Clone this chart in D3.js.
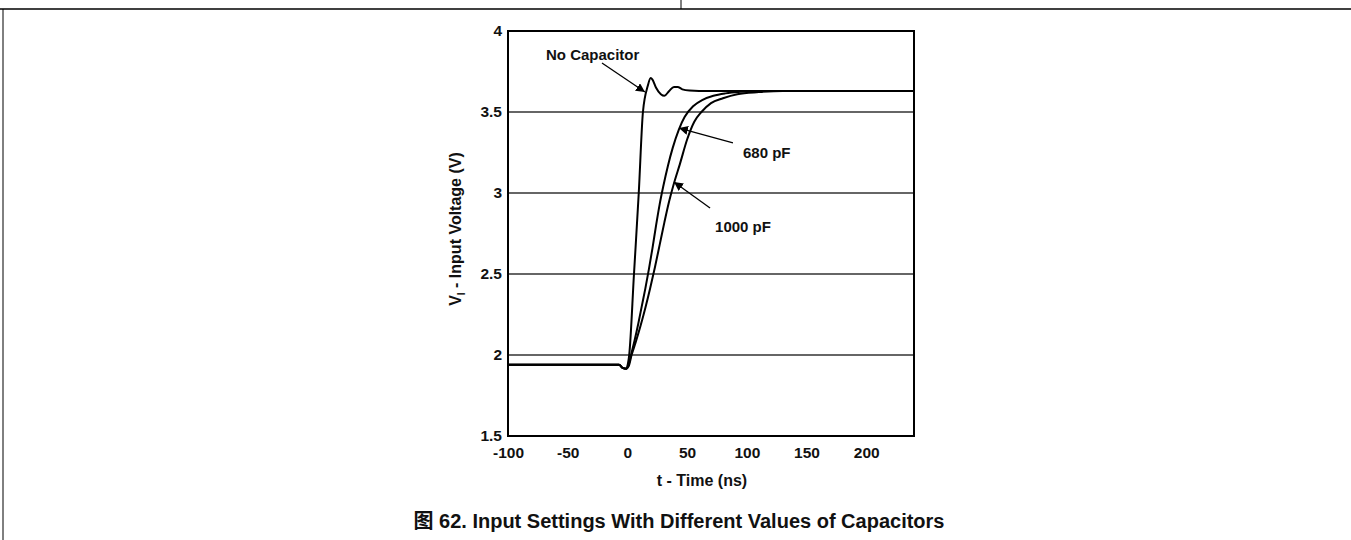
<!DOCTYPE html>
<html>
<head>
<meta charset="utf-8">
<script src="https://cdn.jsdelivr.net/npm/d3@7"></script>
<style>
  body { margin: 0; background: #fff; }
  svg text { font-family: "Liberation Sans", Arial, "Noto Sans CJK SC", sans-serif; font-weight: bold; fill: #111; }
</style>
</head>
<body>
<div id="chart"></div>
<script>
// values: [t (ns), V]
const tTicks = [-100, -50, 0, 50, 100, 150, 200];
const vTicks = [1.5, 2, 2.5, 3, 3.5, 4];
const vGrid = [2, 2.5, 3, 3.5];

const noCap = [[-100,1.94],[-20,1.94],[-7,1.94],[-4,1.92],[-1,1.915],[0.5,1.95],[1.5,2.0],[5.5,2.5],[9.5,3.0],[13,3.5],[17,3.66],[19.5,3.71],[21,3.70],[24,3.65],[28,3.61],[31,3.60],[35,3.63],[39,3.655],[42,3.655],[46,3.64],[52,3.632],[60,3.63],[240,3.63]];
const pf680 = [[-100,1.94],[-7,1.94],[-4,1.92],[-1,1.915],[1,1.94],[3,2.0],[6,2.09],[9,2.19],[12,2.3],[15,2.41],[18,2.53],[21,2.66],[24,2.8],[27,2.93],[30,3.04],[34,3.17],[38,3.28],[43,3.39],[48,3.47],[55,3.535],[63,3.575],[72,3.60],[82,3.615],[95,3.625],[110,3.63],[240,3.63]];
const pf1000 = [[-100,1.94],[-7,1.94],[-4,1.92],[-1,1.915],[1,1.93],[3.5,2.0],[7,2.08],[11,2.18],[15,2.29],[19,2.41],[23,2.54],[27,2.68],[31,2.82],[35,2.95],[39,3.06],[44,3.18],[50,3.33],[56,3.44],[62,3.50],[70,3.555],[80,3.585],[92,3.61],[110,3.623],[130,3.63],[240,3.63]];

// labels with text start / arrow tail / arrow tip in data units
const notes = [
  { text: "No Capacitor", at: [-68.2, 3.821], from: [-21.3, 3.802], to: [14.7, 3.623] },
  { text: "680 pF", at: [96.8, 3.216], from: [88.4, 3.309], to: [43.2, 3.401] },
  { text: "1000 pF", at: [73.4, 2.759], from: [69.2, 2.907], to: [39.0, 3.068] }
];

const width = 1351;
const height = 540;
const margin = { top: 31, bottom: 104, left: 508, right: 437 };

const svg = d3.select('#chart')
  .append('svg')
  .attr('width', width)
  .attr('height', height);

// page frame lines
svg.append('line').attr('x1', 0).attr('x2', width).attr('y1', 9).attr('y2', 9)
  .attr('stroke', '#000').attr('stroke-width', 1.5);
svg.append('line').attr('x1', 681).attr('x2', 681).attr('y1', 0).attr('y2', 9)
  .attr('stroke', '#000').attr('stroke-width', 1);
svg.append('line').attr('x1', 3).attr('x2', 3).attr('y1', 9).attr('y2', height)
  .attr('stroke', '#000').attr('stroke-width', 1);

const x = d3.scaleLinear()
  .domain([-100, 240])
  .range([margin.left, width - margin.right]);

const y = d3.scaleLinear()
  .domain([1.5, 4])
  .range([height - margin.bottom, margin.top]);

// grid
svg.append('g')
  .selectAll('line')
  .data(vGrid)
  .join('line')
  .attr('x1', x.range()[0]).attr('x2', x.range()[1])
  .attr('y1', d => y(d)).attr('y2', d => y(d))
  .attr('stroke', '#333')
  .attr('stroke-width', 1.7);

// axes (labels only)
svg.append('g')
  .attr('transform', `translate(0,${y(1.5)})`)
  .call(d3.axisBottom(x).tickValues(tTicks).tickSize(0).tickPadding(11).tickFormat(d => String(d)))
  .call(g => g.select('.domain').remove())
  .selectAll('text')
  .attr('font-size', '15.5px');

svg.append('g')
  .attr('transform', `translate(${x(-100)},0)`)
  .call(d3.axisLeft(y).tickValues(vTicks).tickSize(0).tickPadding(6).tickFormat(d => String(d)))
  .call(g => g.select('.domain').remove())
  .selectAll('text')
  .attr('font-size', '15.5px');

svg.selectAll('.tick text').attr('fill', '#111').style('font-family', '"Liberation Sans", Arial, sans-serif').style('font-weight', 'bold');

// curves
const line = d3.line()
  .x(d => x(d[0]))
  .y(d => y(d[1]))
  .curve(d3.curveMonotoneX);

svg.append('g')
  .selectAll('path')
  .data([pf1000, pf680, noCap])
  .join('path')
  .attr('d', line)
  .attr('fill', 'none')
  .attr('stroke', '#000')
  .attr('stroke-width', 2);

// frame
svg.append('rect')
  .attr('x', x(-100)).attr('y', y(4))
  .attr('width', x(240) - x(-100)).attr('height', y(1.5) - y(4))
  .attr('fill', 'none')
  .attr('stroke', '#000')
  .attr('stroke-width', 2);

// annotations
svg.append('defs').append('marker')
  .attr('id', 'arrow')
  .attr('viewBox', '0 0 10 10')
  .attr('refX', 10).attr('refY', 5)
  .attr('markerWidth', 9).attr('markerHeight', 9)
  .attr('markerUnits', 'userSpaceOnUse')
  .attr('orient', 'auto')
  .append('path')
  .attr('d', 'M0,0 L10,5 L0,10 Z')
  .attr('fill', '#000');

const ann = svg.append('g');
ann.selectAll('line')
  .data(notes)
  .join('line')
  .attr('x1', d => x(d.from[0])).attr('y1', d => y(d.from[1]))
  .attr('x2', d => x(d.to[0])).attr('y2', d => y(d.to[1]))
  .attr('stroke', '#000')
  .attr('stroke-width', 1.3)
  .attr('marker-end', 'url(#arrow)');

ann.selectAll('text')
  .data(notes)
  .join('text')
  .attr('x', d => x(d.at[0]))
  .attr('y', d => y(d.at[1]))
  .attr('font-size', '15px')
  .text(d => d.text);

// axis titles
svg.append('text')
  .attr('x', 702).attr('y', 486)
  .attr('text-anchor', 'middle')
  .attr('font-size', '16px')
  .text('t - Time (ns)');

const yt = svg.append('text')
  .attr('transform', 'translate(461,229) rotate(-90)')
  .attr('text-anchor', 'middle')
  .attr('font-size', '16px');
yt.append('tspan').text('V');
yt.append('tspan').attr('font-size', '10px').attr('dy', 4).text('I');
yt.append('tspan').attr('dy', -4).text(' - Input Voltage (V)');

// caption
svg.append('text')
  .attr('x', 679).attr('y', 528)
  .attr('text-anchor', 'middle')
  .attr('font-size', '20px')
  .text('图 62. Input Settings With Different Values of Capacitors');
</script>
</body>
</html>
